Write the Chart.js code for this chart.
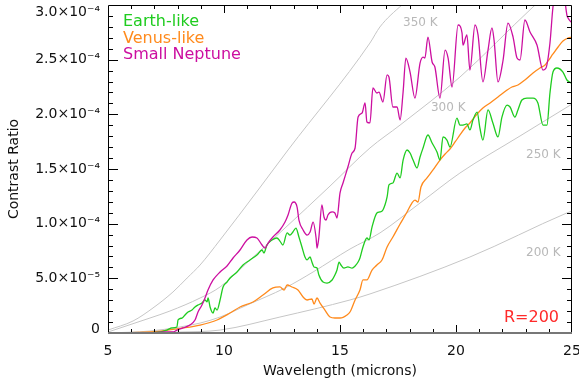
<!DOCTYPE html>
<html>
<head>
<meta charset="utf-8">
<script src="https://cdn.jsdelivr.net/npm/chart.js@4.4.0/dist/chart.umd.min.js"></script>
<style>
body { margin: 0; background: #fff; }
#wrap { width: 579px; height: 390px; }
</style>
</head>
<body>
<div id="wrap"><canvas id="myChart" width="579" height="390"></canvas></div>
<script>
// contrast ratio values are in units of 1e-5, wavelengths in microns
const earthWave = [5.00, 6.38, 7.24, 7.54, 7.76, 7.97, 8.02, 8.19, 8.32, 8.45, 8.62, 8.75, 8.88, 9.05, 9.18, 9.27, 9.31, 9.40, 9.48, 9.53, 9.61, 9.70, 9.83, 9.96, 10.13, 10.26, 10.56, 10.82, 11.12, 11.42, 11.64, 11.72, 11.85, 12.07, 12.28, 12.41, 12.54, 12.72, 12.84, 12.97, 13.10, 13.23, 13.36, 13.49, 13.58, 13.71, 13.79, 13.88, 14.01, 14.09, 14.27, 14.44, 14.66, 14.78, 14.87, 14.96, 15.04, 15.17, 15.34, 15.52, 15.65, 15.78, 15.86, 15.99, 16.16, 16.25, 16.38, 16.59, 16.72, 16.85, 17.03, 17.11, 17.28, 17.46, 17.59, 17.72, 17.89, 18.02, 18.15, 18.32, 18.45, 18.58, 18.79, 18.97, 19.18, 19.31, 19.44, 19.61, 19.74, 20.04, 20.17, 20.30, 20.47, 20.60, 20.73, 20.91, 21.03, 21.16, 21.38, 21.59, 21.81, 21.98, 22.20, 22.33, 22.54, 22.67, 22.84, 23.06, 23.32, 23.53, 23.75, 23.92, 24.05, 24.18, 24.35, 24.61, 24.78, 24.96];
const earthVal = [0, 0, 0.09, 0.27, 0.46, 0.55, 1.19, 1.37, 1.65, 1.92, 2.10, 2.38, 2.56, 2.74, 3.02, 2.84, 3.20, 2.38, 1.92, 1.83, 2.29, 2.10, 3.02, 4.21, 4.66, 5.03, 5.58, 6.22, 6.68, 7.13, 7.59, 7.32, 8.05, 8.51, 8.69, 8.41, 8.05, 9.15, 8.96, 9.24, 9.60, 8.78, 7.87, 6.95, 6.68, 6.95, 6.49, 6.04, 5.94, 5.30, 4.66, 4.57, 4.85, 5.30, 5.76, 6.49, 6.22, 5.94, 6.04, 5.94, 6.13, 6.49, 6.86, 7.87, 8.69, 8.51, 9.69, 10.98, 11.07, 11.25, 12.44, 13.54, 13.72, 14.63, 14.18, 15.82, 16.74, 16.46, 15.82, 15.09, 16.10, 16.92, 18.11, 17.38, 16.55, 15.82, 17.93, 17.65, 17.01, 19.66, 19.02, 19.02, 19.12, 18.57, 19.48, 20.21, 18.75, 17.65, 20.40, 19.21, 17.93, 19.75, 20.85, 20.67, 19.75, 20.40, 21.31, 21.49, 21.49, 21.04, 19.02, 19.02, 21.95, 23.87, 24.24, 23.87, 23.14, 22.87];

const venusWave = [5.00, 6.81, 8.23, 8.97, 9.70, 10.26, 10.69, 11.25, 11.68, 12.11, 12.41, 12.59, 12.72, 12.93, 13.19, 13.41, 13.58, 13.79, 13.88, 14.01, 14.14, 14.35, 14.57, 14.78, 15.00, 15.30, 15.43, 15.65, 15.86, 15.99, 16.16, 16.38, 16.59, 16.81, 17.03, 17.28, 17.59, 17.89, 18.10, 18.23, 18.36, 18.49, 18.75, 19.01, 19.31, 19.53, 19.74, 19.96, 20.17, 20.39, 20.60, 20.91, 21.16, 21.47, 21.81, 22.20, 22.41, 22.67, 22.97, 23.32, 23.62, 23.84, 23.97, 24.18, 24.40, 24.61, 24.83, 25.00];
const venusVal = [0, 0.09, 0.46, 0.73, 1.19, 1.83, 2.38, 2.84, 3.48, 4.12, 4.21, 3.93, 4.39, 4.21, 3.93, 3.29, 3.02, 3.11, 2.65, 3.20, 2.74, 2.10, 1.46, 1.37, 1.37, 1.65, 1.92, 3.02, 3.93, 4.85, 4.85, 5.76, 6.22, 6.68, 7.87, 8.78, 9.97, 11.07, 11.89, 12.16, 11.98, 13.35, 14.18, 14.91, 15.82, 16.37, 16.83, 17.47, 18.11, 18.75, 19.21, 20.03, 20.58, 21.04, 21.58, 22.22, 22.50, 22.68, 23.14, 23.78, 24.24, 24.51, 24.88, 25.52, 26.16, 26.71, 26.98, 27.07];

const neptuneWave = [5.00, 5.95, 6.81, 7.46, 7.80, 7.97, 8.23, 8.53, 8.75, 8.88, 9.05, 9.18, 9.31, 9.53, 9.83, 10.13, 10.39, 10.69, 10.99, 11.21, 11.42, 11.64, 11.77, 11.90, 12.11, 12.41, 12.63, 12.76, 12.93, 13.02, 13.15, 13.23, 13.41, 13.58, 13.71, 13.84, 13.97, 14.01, 14.09, 14.22, 14.31, 14.40, 14.48, 14.66, 14.78, 14.87, 15.00, 15.13, 15.34, 15.52, 15.65, 15.78, 15.95, 16.08, 16.16, 16.29, 16.42, 16.59, 16.68, 16.85, 17.03, 17.11, 17.28, 17.46, 17.59, 17.72, 17.84, 18.02, 18.23, 18.45, 18.58, 18.66, 18.79, 18.97, 19.09, 19.31, 19.53, 19.66, 19.83, 20.09, 20.26, 20.30, 20.47, 20.60, 20.82, 20.95, 21.16, 21.38, 21.55, 21.64, 21.81, 22.03, 22.24, 22.46, 22.63, 22.76, 22.97, 23.19, 23.49, 23.75, 23.88, 24.05, 24.18, 24.31, 24.48, 24.66, 24.78, 24.83, 24.96];
const neptuneVal = [0, 0, 0, 0.09, 0.09, 0.27, 0.46, 0.73, 1.19, 1.92, 2.56, 3.20, 3.93, 4.85, 5.58, 6.13, 6.86, 7.59, 8.51, 8.78, 8.69, 8.05, 7.77, 8.23, 8.78, 9.42, 10.15, 10.79, 11.89, 11.98, 11.52, 10.33, 9.42, 8.96, 9.24, 10.15, 8.69, 7.77, 8.78, 11.71, 10.61, 10.33, 10.79, 11.07, 10.98, 10.52, 12.80, 13.72, 15.18, 16.46, 16.92, 19.75, 20.12, 21.04, 19.30, 19.21, 22.41, 21.95, 22.04, 21.13, 23.60, 23.41, 20.67, 20.67, 19.48, 22.04, 25.15, 23.87, 21.49, 24.69, 25.24, 25.15, 27.07, 24.79, 24.33, 21.49, 25.88, 25.15, 22.50, 28.17, 27.44, 26.34, 27.26, 24.05, 28.17, 27.26, 22.96, 25.88, 27.90, 26.80, 22.96, 24.97, 28.35, 27.07, 25.15, 24.97, 28.63, 27.53, 26.34, 24.05, 24.24, 26.52, 29.82, 31.19, 31.83, 30.92, 29.08, 28.81, 28.44];

// blackbody reference curves
const bb350Wave = [5.00, 6.08, 6.94, 7.80, 8.41, 8.97, 9.83, 11.47, 12.76, 16.29, 16.72, 17.67, 18.20];
const bb350Val = [0.27, 1.10, 2.29, 3.75, 5.03, 6.22, 8.51, 13.08, 16.74, 26.52, 27.99, 30.00, 30.90];
const bb300Wave = [5.00, 6.81, 7.67, 8.97, 9.83, 11.12, 12.63, 14.57, 16.29, 17.59, 20.17, 23.32, 23.66];
const bb300Val = [0.09, 1.37, 2.01, 3.20, 4.21, 6.68, 9.60, 13.44, 16.92, 19.02, 23.41, 29.82, 30.46];
const bb250Wave = [5.00, 6.81, 8.10, 8.97, 9.83, 11.00, 12.63, 13.84, 15.43, 16.72, 18.45, 20.17, 22.76, 25.00];
const bb250Val = [0, 0.18, 0.55, 0.91, 1.46, 2.56, 4.12, 5.58, 7.68, 9.15, 11.89, 14.63, 18.02, 20.94];
const bb200Wave = [5.00, 8.10, 9.83, 12.41, 15.43, 16.29, 20.60, 24.78, 25.00];
const bb200Val = [0, 0.09, 0.27, 1.46, 3.02, 3.57, 6.95, 10.98, 11.16];

const tempLabels = ['350 K', '300 K', '250 K', '200 K'];
const tempLabelX = [17.72, 18.92, 23.02, 23.02];
const tempLabelY = [28.35, 20.58, 16.28, 7.32];

const yTickValues = [0, 5, 10, 15, 20, 25, 30];
const yTickLabels = ['0', '5.0×10⁻⁵', '1.0×10⁻⁴', '1.5×10⁻⁴', '2.0×10⁻⁴', '2.5×10⁻⁴', '3.0×10⁻⁴'];

const seriesNames = ['Earth-like', 'Venus-like', 'Small Neptune'];
const seriesColors = ['#1fcc1f', '#ff8a1c', '#cc0fa0'];
const bbColor = '#c6c6c6';

function pts(xs, ys) {
    return xs.map(function(x, i) { return {x: x, y: ys[i]}; });
}

function lineSet(label, xs, ys, color, width, order) {
    return {
        label: label,
        data: pts(xs, ys),
        borderColor: color,
        backgroundColor: color,
        borderWidth: width,
        pointRadius: 0,
        fill: false,
        cubicInterpolationMode: 'monotone',
        order: order
    };
}

const FONT = "'DejaVu Sans', sans-serif";

// frame with inward ticks, y labels and the free text
const framePlugin = {
    id: 'frame',
    afterDatasetsDraw: function(chart) {
        const ctx = chart.ctx;
        const a = chart.chartArea;
        const xs = chart.scales.x;
        const ys = chart.scales.y;
        ctx.save();
        ctx.strokeStyle = '#000';
        ctx.lineWidth = 1;
        ctx.beginPath();
        ctx.moveTo(a.left + 0.5, a.bottom);
        ctx.lineTo(a.left + 0.5, a.top + 0.5);
        ctx.lineTo(a.right - 0.5, a.top + 0.5);
        ctx.lineTo(a.right - 0.5, a.bottom);
        for (let v = 1; v < 30; v++) {
            const len = v % 5 === 0 ? 10 : 5;
            const py = Math.round(ys.getPixelForValue(v)) + 0.5;
            ctx.moveTo(a.left, py); ctx.lineTo(a.left + len, py);
            ctx.moveTo(a.right, py); ctx.lineTo(a.right - len, py);
        }
        for (let w = 6; w < 25; w++) {
            const len = w % 5 === 0 ? 8 : 4;
            const px = Math.round(xs.getPixelForValue(w)) + 0.5;
            ctx.moveTo(px, a.bottom); ctx.lineTo(px, a.bottom - len);
            ctx.moveTo(px, a.top); ctx.lineTo(px, a.top + len);
        }
        ctx.stroke();
        ctx.strokeStyle = '#777';
        ctx.lineWidth = 2;
        ctx.beginPath();
        ctx.moveTo(a.left, a.bottom);
        ctx.lineTo(a.right, a.bottom);
        ctx.stroke();

        // y tick labels, kept inside the canvas at both ends
        ctx.font = '14px ' + FONT;
        ctx.fillStyle = '#111';
        ctx.textAlign = 'right';
        ctx.textBaseline = 'middle';
        yTickValues.forEach(function(v, i) {
            let py = ys.getPixelForValue(v);
            py = Math.min(Math.max(py, a.top + 7), a.bottom - 4);
            ctx.fillText(yTickLabels[i], a.left - 8, py);
        });

        // temperature labels
        ctx.font = '12px ' + FONT;
        ctx.fillStyle = '#b8b8b8';
        ctx.textAlign = 'left';
        tempLabels.forEach(function(t, i) {
            ctx.fillText(t, xs.getPixelForValue(tempLabelX[i]), ys.getPixelForValue(tempLabelY[i]));
        });

        // legend text
        ctx.font = '16px ' + FONT;
        seriesNames.forEach(function(n, i) {
            ctx.fillStyle = seriesColors[i];
            ctx.fillText(n, a.left + 15, a.top + 17 + i * 16.5);
        });

        ctx.fillStyle = '#ff2a2a';
        ctx.textAlign = 'right';
        ctx.fillText('R=200', a.right - 13, a.bottom - 15);
        ctx.restore();
    }
};

const config = {
    type: 'line',
    data: {
        datasets: [
            lineSet(seriesNames[2], neptuneWave, neptuneVal, seriesColors[2], 1.3, 1),
            lineSet(seriesNames[0], earthWave, earthVal, seriesColors[0], 1.3, 2),
            lineSet(seriesNames[1], venusWave, venusVal, seriesColors[1], 1.3, 3),
            lineSet('350 K', bb350Wave, bb350Val, bbColor, 1, 4),
            lineSet('300 K', bb300Wave, bb300Val, bbColor, 1, 5),
            lineSet('250 K', bb250Wave, bb250Val, bbColor, 1, 6),
            lineSet('200 K', bb200Wave, bb200Val, bbColor, 1, 7)
        ]
    },
    options: {
        responsive: false,
        animation: false,
        layout: {
            padding: {left: 0, right: 7, top: 5, bottom: 0}
        },
        plugins: {
            legend: {display: false},
            tooltip: {enabled: false}
        },
        scales: {
            x: {
                type: 'linear',
                min: 5,
                max: 25,
                grid: {display: false, drawTicks: false},
                border: {display: false},
                ticks: {
                    stepSize: 5,
                    padding: 10,
                    color: '#111',
                    font: {family: FONT, size: 14},
                    maxRotation: 0
                },
                title: {
                    display: true,
                    text: 'Wavelength (microns)',
                    color: '#111',
                    font: {family: FONT, size: 14},
                    padding: {top: 0, bottom: 10}
                },
                afterFit: function(scale) {
                    scale.height = 57;
                    scale.paddingLeft = 0;
                    scale.paddingRight = 0;
                }
            },
            y: {
                min: 0,
                max: 30,
                grid: {display: false, drawTicks: false},
                border: {display: false},
                ticks: {
                    stepSize: 5,
                    display: false
                },
                title: {
                    display: true,
                    text: 'Contrast Ratio',
                    color: '#111',
                    font: {family: FONT, size: 14},
                    padding: {top: 6, bottom: 0}
                },
                afterFit: function(scale) {
                    scale.width = 108;
                    scale.paddingTop = 0;
                    scale.paddingBottom = 0;
                }
            }
        }
    },
    plugins: [framePlugin]
};

var myChart = new Chart(document.getElementById('myChart'), config);
</script>
</body>
</html>
